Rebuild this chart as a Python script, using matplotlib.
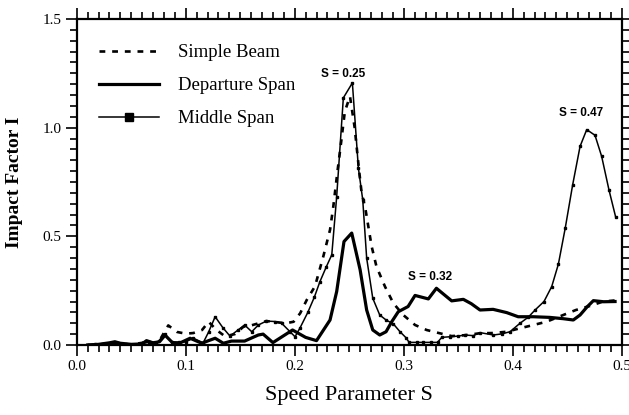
import matplotlib
matplotlib.use("Agg")
import matplotlib.pyplot as plt
from matplotlib.ticker import MultipleLocator

# Simple beam (dashed)
s_simple = [0.010, 0.020, 0.030, 0.040, 0.050, 0.060, 0.065, 0.070, 0.077, 0.084,
            0.092, 0.100, 0.107, 0.115, 0.121, 0.128, 0.136, 0.145, 0.153, 0.160,
            0.167, 0.174, 0.185, 0.192, 0.199, 0.205, 0.211, 0.2186, 0.2262, 0.2324,
            0.2354, 0.239, 0.2425, 0.246, 0.2507, 0.255, 0.259, 0.2614, 0.2645, 0.2706,
            0.275, 0.2828, 0.2905, 0.2996, 0.3104, 0.321, 0.333, 0.344, 0.356, 0.370,
            0.382, 0.3945, 0.4067, 0.419, 0.431, 0.4464, 0.458, 0.471, 0.483, 0.494]
i_simple = [0.000, 0.002, 0.008, 0.004, 0.002, 0.010, 0.020, 0.008, 0.030, 0.090,
            0.060, 0.052, 0.055, 0.069, 0.107, 0.070, 0.040, 0.050, 0.084, 0.090,
            0.100, 0.110, 0.104, 0.100, 0.107, 0.146, 0.207, 0.270, 0.407, 0.530,
            0.637, 0.790, 0.930, 1.075, 1.144, 1.000, 0.806, 0.699, 0.637, 0.453,
            0.361, 0.269, 0.192, 0.138, 0.092, 0.069, 0.054, 0.041, 0.045, 0.054,
            0.055, 0.061, 0.077, 0.092, 0.107, 0.138, 0.161, 0.180, 0.200, 0.205]

# Departure span (thick solid)
s_depart = [0.010, 0.020, 0.030, 0.035, 0.040, 0.050, 0.060, 0.064, 0.070, 0.076,
            0.081, 0.088, 0.095, 0.104, 0.1147, 0.121, 0.127, 0.1345, 0.142, 0.154,
            0.1666, 0.171, 0.180, 0.198, 0.210, 0.220, 0.2324, 0.2385, 0.2452, 0.2523,
            0.260, 0.266, 0.2716, 0.278, 0.2838, 0.289, 0.295, 0.304, 0.3104, 0.3226,
            0.330, 0.344, 0.3547, 0.362, 0.370, 0.382, 0.3945, 0.405, 0.419, 0.434,
            0.4464, 0.4556, 0.4618, 0.468, 0.474, 0.4834, 0.4939]
i_depart = [0.000, 0.003, 0.010, 0.015, 0.008, 0.003, 0.005, 0.020, 0.010, 0.015,
            0.045, 0.010, 0.010, 0.031, 0.008, 0.020, 0.031, 0.008, 0.018, 0.018,
            0.046, 0.050, 0.011, 0.069, 0.035, 0.020, 0.115, 0.246, 0.476, 0.515,
            0.346, 0.161, 0.069, 0.046, 0.061, 0.107, 0.153, 0.177, 0.228, 0.212,
            0.261, 0.203, 0.210, 0.190, 0.161, 0.164, 0.149, 0.130, 0.130, 0.127,
            0.121, 0.115, 0.138, 0.174, 0.204, 0.199, 0.200]

# Middle span (thin solid with square markers)
s_middle = [0.010, 0.017, 0.024, 0.031, 0.038, 0.045, 0.052, 0.059, 0.066, 0.073,
            0.081, 0.087, 0.094, 0.100, 0.107, 0.116, 0.121, 0.127, 0.134, 0.1406,
            0.148, 0.154, 0.1606, 0.1666, 0.174, 0.182, 0.188, 0.1957, 0.2003, 0.205,
            0.212, 0.218, 0.223, 0.229, 0.234, 0.2385, 0.2446, 0.2529, 0.2584, 0.2624,
            0.266, 0.2716, 0.278, 0.2838, 0.2905, 0.2966, 0.302, 0.305, 0.312, 0.318,
            0.325, 0.331, 0.3349, 0.3425, 0.350, 0.3563, 0.3638, 0.370, 0.3822, 0.390,
            0.3975, 0.4067, 0.4143, 0.4205, 0.4287, 0.4358, 0.4419, 0.4482, 0.4550, 0.4618,
            0.4679, 0.4755, 0.4816, 0.4883, 0.4945]
i_middle = [0.000, 0.003, 0.002, 0.008, 0.010, 0.003, 0.002, 0.006, 0.012, 0.008,
            0.050, 0.015, 0.012, 0.015, 0.031, 0.010, 0.060, 0.130, 0.080, 0.041,
            0.069, 0.092, 0.061, 0.092, 0.110, 0.108, 0.100, 0.061, 0.038, 0.080,
            0.150, 0.220, 0.290, 0.360, 0.415, 0.683, 1.137, 1.206, 0.814, 0.668,
            0.400, 0.215, 0.138, 0.115, 0.097, 0.061, 0.034, 0.012, 0.012, 0.012,
            0.012, 0.012, 0.035, 0.038, 0.041, 0.046, 0.043, 0.057, 0.046, 0.051,
            0.061, 0.100, 0.128, 0.161, 0.200, 0.269, 0.372, 0.538, 0.737, 0.914,
            0.991, 0.965, 0.868, 0.714, 0.588]

legend_labels = ["Simple Beam", "Departure Span", "Middle Span"]
peak_notes = [("S = 0.25", 0.2443, 1.249), ("S = 0.32", 0.3244, 0.312), ("S = 0.47", 0.4625, 1.069)]

serif = ["Liberation Serif", "DejaVu Serif"]

fig = plt.figure(figsize=(6.29, 4.15), dpi=100)
ax = fig.add_axes([0.122, 0.1687, 0.8664, 0.7855])

ax.plot(s_simple, i_simple, color="black", lw=1.9, linestyle=(0, (2.2, 2.6)),
        label=legend_labels[0])
ax.plot(s_depart, i_depart, color="black", lw=2.3, label=legend_labels[1])
ax.plot(s_middle, i_middle, color="black", lw=1.1, marker="s", markersize=1.5,
        label=legend_labels[2])

for txt, x, y in peak_notes:
    ax.text(x, y, txt, ha="center", va="center", fontsize=8.5, fontweight="bold",
            family=["Liberation Sans", "DejaVu Sans"])

ax.set_xlim(0.0, 0.5)
ax.set_ylim(0.0, 1.5)
ax.xaxis.set_major_locator(MultipleLocator(0.1))
ax.xaxis.set_minor_locator(MultipleLocator(0.01))
ax.yaxis.set_major_locator(MultipleLocator(0.5))
ax.yaxis.set_minor_locator(MultipleLocator(0.05))
ax.tick_params(which="both", direction="out", top=True, right=True, width=1.2,
               labelsize=11, pad=3)
ax.tick_params(which="major", length=8)
ax.tick_params(which="minor", length=5)
for lab in ax.get_xticklabels() + ax.get_yticklabels():
    lab.set_family(serif)
for sp in ax.spines.values():
    sp.set_linewidth(1.6)

ax.set_xlabel("Speed Parameter S", fontsize=16, family=serif, labelpad=9)
ax.set_ylabel("Impact Factor I", fontsize=14, fontweight="bold", family=serif, labelpad=14)

leg = ax.legend(loc="upper left", bbox_to_anchor=(0.01, 0.975), frameon=False,
                prop={"family": serif, "size": 13.5}, handlelength=3.2,
                handletextpad=1.0, labelspacing=0.85, markerscale=3.8)

fig.savefig("out.png", dpi=100)
